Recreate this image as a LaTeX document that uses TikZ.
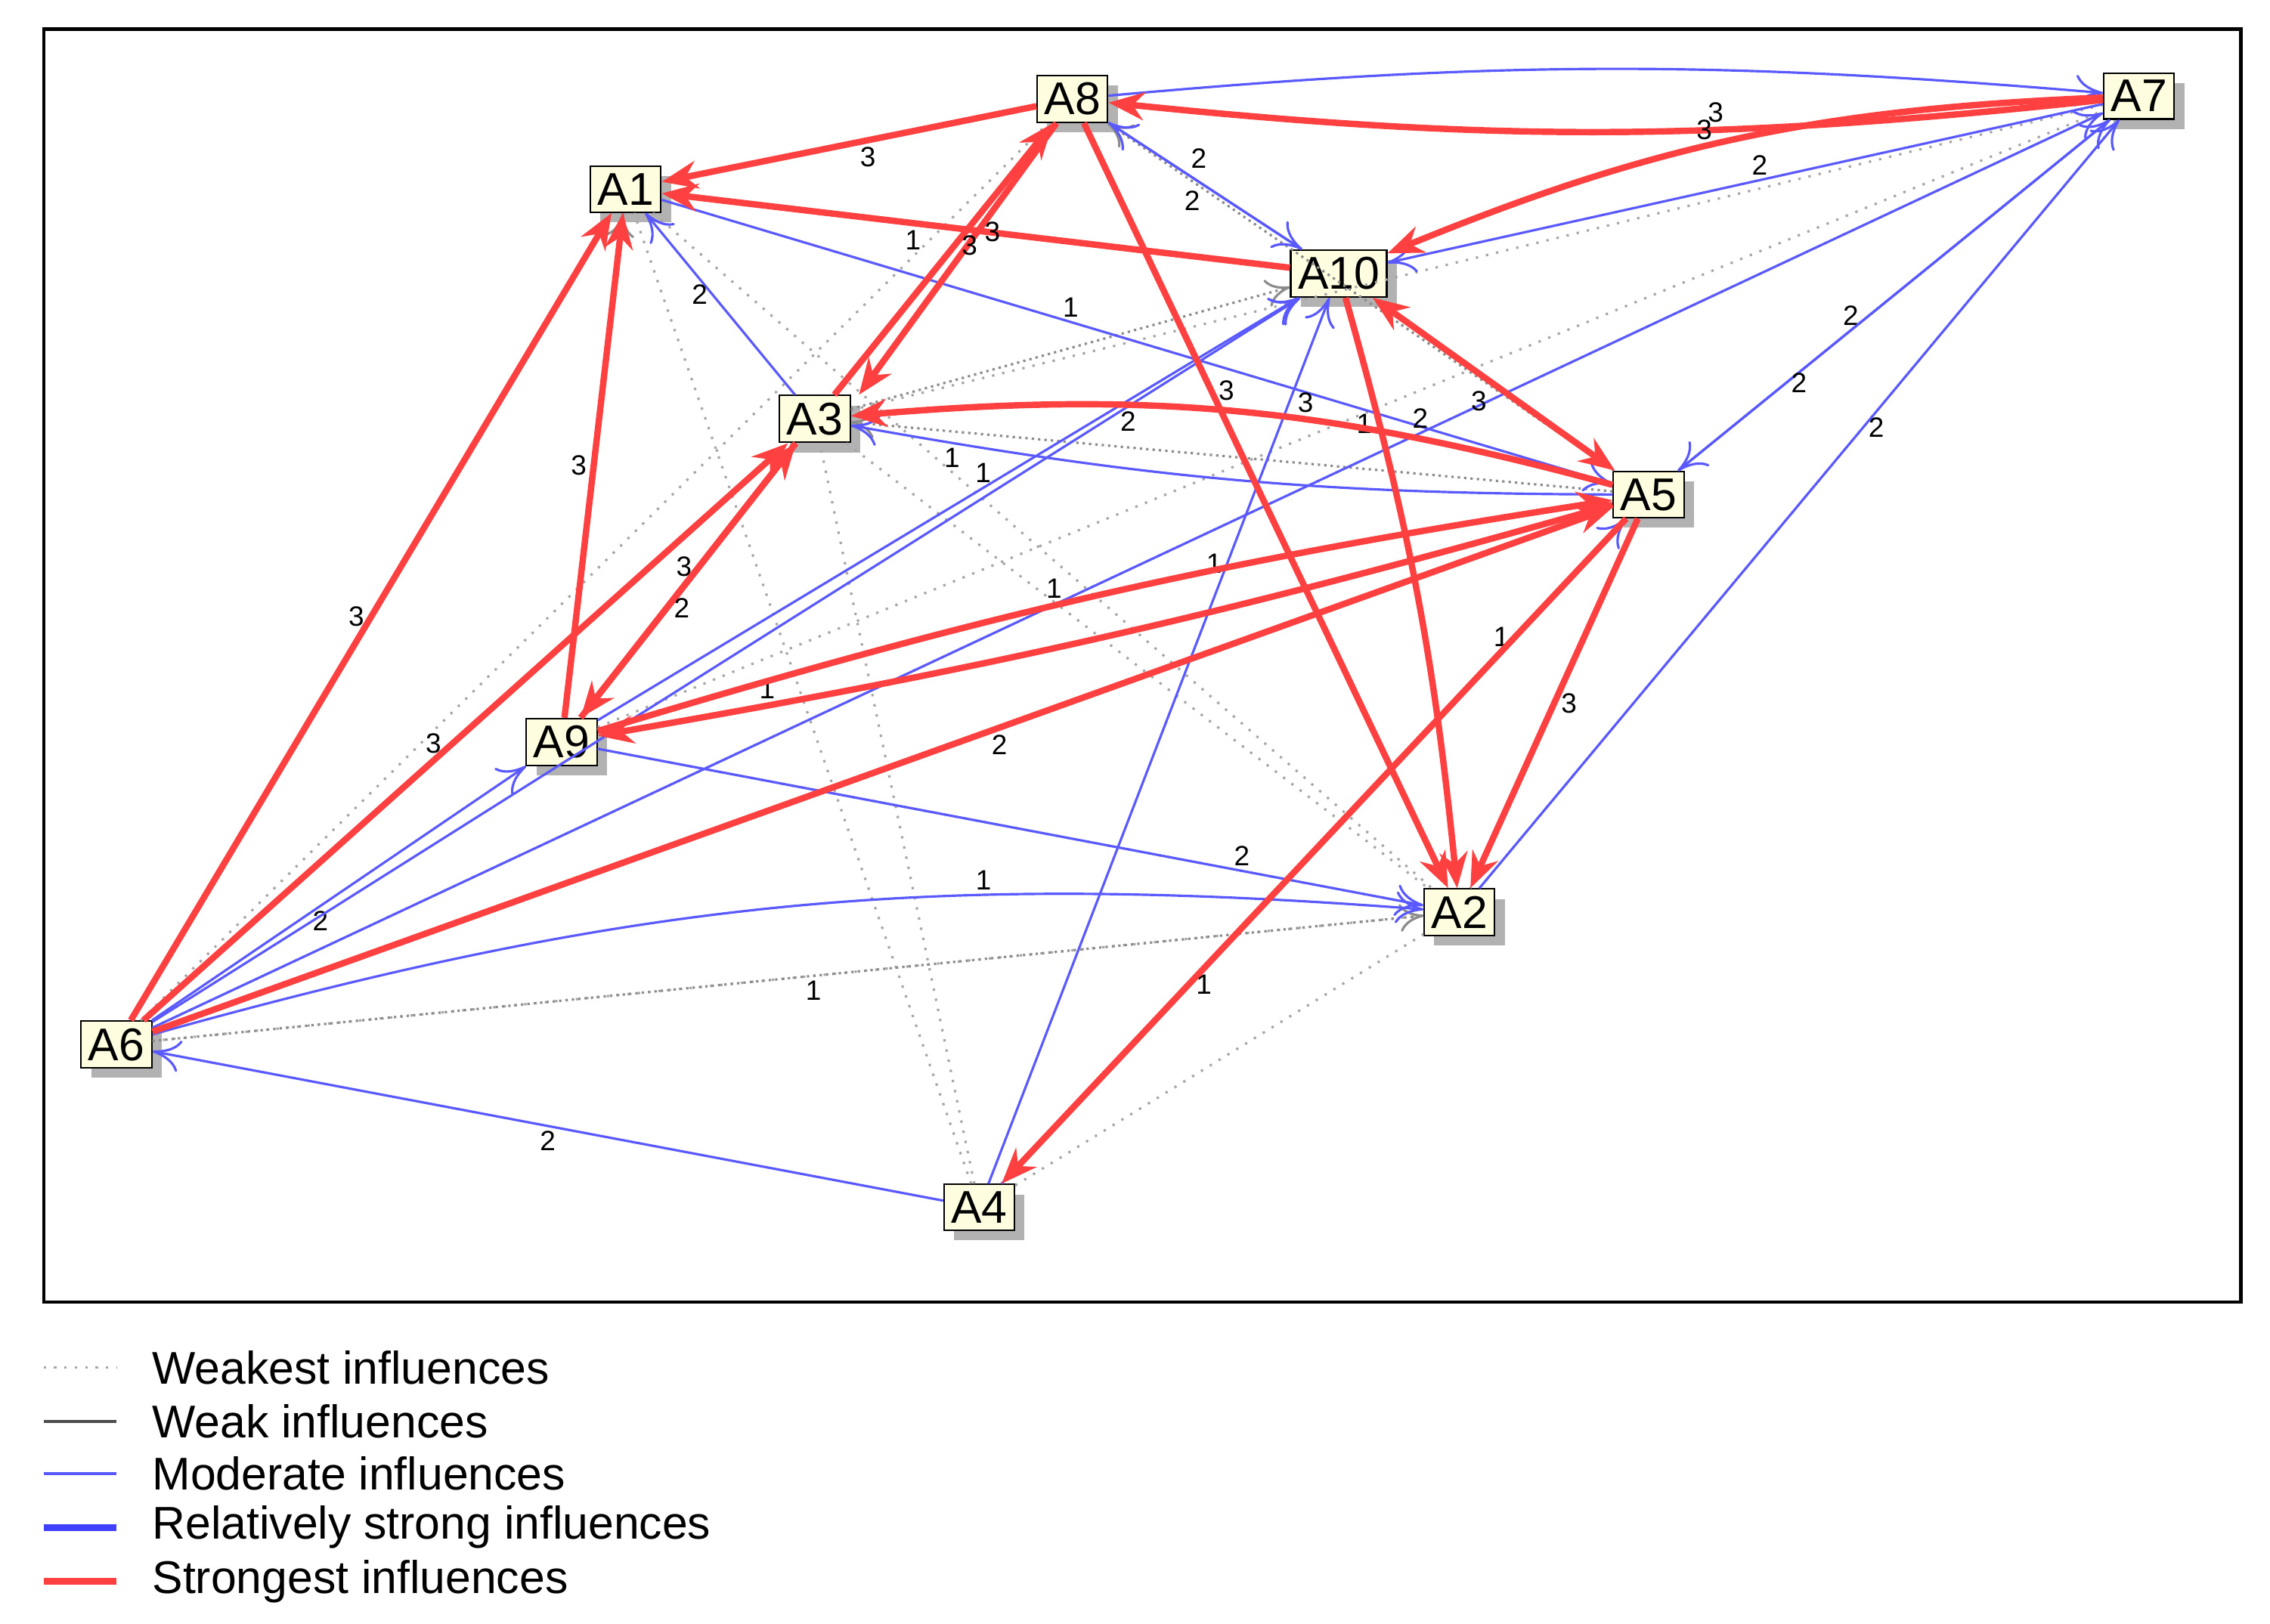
\documentclass[tikz,border=0pt]{standalone}
\usepackage{fontspec}
\setmainfont{Liberation Sans}
\usetikzlibrary{arrows.meta,shadows}
\begin{document}
\begin{tikzpicture}[x=0.01282cm,y=-0.01282cm,
 nd/.style={draw=black,fill=yellow!12,inner sep=1.8pt,font=\fontsize{11.5}{13}\selectfont,drop shadow={shadow xshift=2.5pt,shadow yshift=-2.5pt,fill=black!60}},
 st/.style={draw=red!75,line width=1.6pt,-{Stealth[length=9pt,width=7pt]}},
 md/.style={draw=blue!65,line width=0.6pt,-{To[length=7pt,width=8pt]}},
 wk/.style={draw=black!45,line width=0.6pt,densely dotted,-{To[length=6pt,width=7pt]}},
 wr/.style={draw=black!35,line width=0.6pt,dotted},
 lb/.style={font=\fontsize{7}{8}\selectfont,inner sep=1pt},
 lg/.style={font=\fontsize{11.5}{13}\selectfont,anchor=west}]
\useasboundingbox (0,0) rectangle (1560,1116);
\draw[line width=0.8pt] (30,20) rectangle (1540,895);
% nodes
\node[nd] (A8) at (737,68) {A8};
\node[nd] (A7) at (1470,66) {A7};
\node[nd] (A1) at (430,130) {A1};
\node[nd] (A10) at (920,188) {A10};
\node[nd] (A3) at (560,288) {A3};
\node[nd] (A5) at (1133,340) {A5};
\node[nd] (A9) at (386,510) {A9};
\node[nd] (A2) at (1003,627) {A2};
\node[nd] (A6) at (80,718) {A6};
\node[nd] (A4) at (673,830) {A4};
% weakest
\draw[wr] (A6) -- (A7);
\draw[wr] (A6) -- (A2) node[lb,pos=0.52,below]{1};
\draw[wr] (A6) -- (A8);
\draw[wr] (A9) -- (A7);
\draw[wr] (A3) -- (A7);
\draw[wr] (A4) -- (A1);
\draw[wr] (A4) -- (A3);
\draw[wr] (A9) -- (A2);
\draw[wr] (A3) -- (A2);
\draw[wr] (A1) -- (A2);
\draw[wr] (A8) -- (A2);
\draw[wr] (A4) -- (A2);
\draw[wr] (A2) -- (A7);
\draw[wr] (A5) -- (A2);
\draw[wk] (A9) -- (A1);
\draw[wk] (A5) -- (A3);
\draw[wk] (A6) -- (A2);
\draw[wk] (A3) -- (A10);
\draw[wk] (A5) -- (A8);
% moderate
\draw[md] (A8) to[bend left=5] (A7);
\draw[md] (A7) -- (A10) node[lb,pos=0.48,above]{2};
\draw[md] (A8) -- (A10) node[lb,pos=0.4,above right]{2};
\draw[md] (A10) -- (A8) node[lb,pos=0.5,below left]{2};
\draw[md] (A1) -- (A5) node[lb,pos=0.43,above]{1};
\draw[md] (A3) -- (A1) node[lb,pos=0.55,left]{2};
\draw[md] (A5) to[bend left=5] node[lb,pos=0.88,below]{1} (A3);
\draw[md] (A9) -- (A10) node[lb,pos=0.55,above]{1};
\draw[md] (A6) -- (A9) node[lb,pos=0.45,below]{2};
\draw[md] (A6) to[bend left=10] node[lb,pos=0.67,above]{1} (A2);
\draw[md] (A9) -- (A2) node[lb,pos=0.78,above]{2};
\draw[md] (A4) -- (A6) node[lb,pos=0.5,below]{2};
\draw[md] (A4) -- (A10) node[lb,pos=0.7,left]{1};
\draw[md] (A4) -- (A5) node[lb,pos=0.8,above]{1};
\draw[md] (A5) -- (A7) node[lb,pos=0.4,above]{2};
\draw[md] (A7) -- (A5) node[lb,pos=0.75,right]{2};
\draw[md] (A2) -- (A7) node[lb,pos=0.6,right]{2};
\draw[md] (A6) -- (A7) node[lb,pos=0.65,above]{2};
\draw[md] (A6) -- (A10) node[lb,pos=0.85,below]{2};
% strongest
\draw[st] (A7) to[bend left=6] node[lb,pos=0.38,above]{3} (A8);
\draw[st] (A8) -- (A1) node[lb,pos=0.45,below]{3};
\draw[st] (A10) -- (A1) node[lb,pos=0.6,below]{1};
\draw[st] (A7) to[bend right=10] node[lb,pos=0.55,above]{3} (A10);
\draw[st] ([xshift=-4pt]A8.south) -- ([xshift=2pt]A3.north east) node[lb,pos=0.4,right]{3};
\draw[st] (A3) -- (A8) node[lb,pos=0.55,right]{3};
\draw[st] (A8) -- (A2) node[lb,pos=0.35,right]{3};
\draw[st] (A10) to[bend left=5] node[lb,pos=0.2,left]{1} (A2);
\draw[st,{Stealth[length=9pt,width=7pt]}-{Stealth[length=9pt,width=7pt]}] (A10) -- (A5) node[lb,pos=0.5,below left]{3};
\draw[st] (A5) to[bend right=10] node[lb,pos=0.4,above]{3} (A3);
\draw[st] (A6) -- (A1) node[lb,pos=0.5,left]{3};
\draw[st] (A9) -- (A1) node[lb,pos=0.5,left]{3};
\draw[st] (A6) -- (A3) node[lb,pos=0.45,above]{3};
\draw[st] (A9) -- (A3) node[lb,pos=0.55,left]{3};
\draw[st] (A3) -- (A9) node[lb,pos=0.6,right]{2};
\draw[st] (A5) to[bend left=3] node[lb,pos=0.85,above]{1} (A9);
\draw[st] (A9) to[bend left=4] node[lb,pos=0.45,above]{1} (A5);
\draw[st] (A6) -- (A5) node[lb,pos=0.58,below]{2};
\draw[st] (A5) -- (A2) node[lb,pos=0.5,right]{3};
\draw[st] (A5) -- (A4) node[lb,pos=0.7,right]{1};
% legend
\coordinate (l1a) at (30,940); \coordinate (l1b) at (80,940);
\draw[wr] (l1a) -- (l1b); \node[lg] (t1) at (95,940) {Weakest influences};
\coordinate (l2a) at (30,977); \coordinate (l2b) at (80,977);
\draw[black!70,line width=0.7pt] (l2a) -- (l2b); \node[lg] (t2) at (95,977) {Weak influences};
\coordinate (l3a) at (30,1013); \coordinate (l3b) at (80,1013);
\draw[blue!65,line width=0.7pt] (l3a) -- (l3b); \node[lg] (t3) at (95,1013) {Moderate influences};
\coordinate (l4a) at (30,1050); \coordinate (l4b) at (80,1050);
\draw[blue!75,line width=1.6pt] (l4a) -- (l4b); \node[lg] (t4) at (95,1050) {Relatively strong influences};
\coordinate (l5a) at (30,1087); \coordinate (l5b) at (80,1087);
\draw[red!75,line width=1.8pt] (l5a) -- (l5b); \node[lg] (t5) at (95,1087) {Strongest influences};
\end{tikzpicture}
\end{document}
